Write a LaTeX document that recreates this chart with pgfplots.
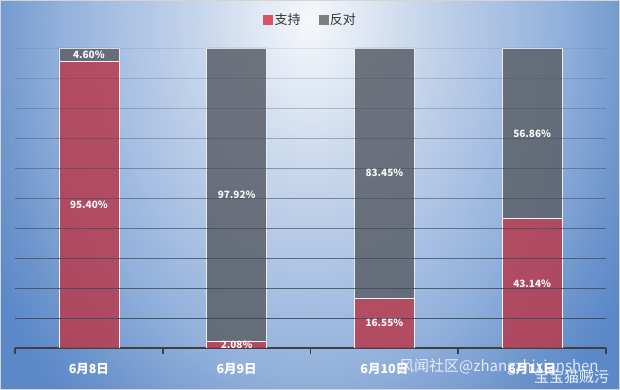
\documentclass[border=0pt]{standalone}
\usepackage{pgfplots}
\pgfplotsset{compat=1.18}
\usepackage{fontspec}
\setmainfont{Noto Sans CJK SC}
\definecolor{bgA}{HTML}{F6F8FB}
\definecolor{bgB}{HTML}{C4D4EA}
\definecolor{bgC}{HTML}{93B1DC}
\definecolor{bgD}{HTML}{6E96CC}
\definecolor{bgE}{HTML}{5B88C9}
\definecolor{bordc}{HTML}{D8D4CC}
\definecolor{redbar}{HTML}{B53E52}
\definecolor{graybar}{HTML}{5E636D}
\definecolor{legred}{HTML}{D9545F}
\definecolor{leggray}{HTML}{7F7F7F}
\definecolor{gridc}{HTML}{3E4A5C}
\definecolor{axc}{HTML}{404040}
\definecolor{legtext}{HTML}{333333}
\pgfdeclareradialshading{bgshade}{\pgfpoint{0bp}{0bp}}{color(0bp)=(bgA); color(8bp)=(bgB); color(17bp)=(bgC); color(22bp)=(bgD); color(25bp)=(bgE); color(50bp)=(bgE)}
\begin{document}
\begin{tikzpicture}
\useasboundingbox (0,0) rectangle (620bp,390bp);
\fill[bgE] (0,0) rectangle (620bp,390bp);
\begin{scope}
\clip (0,0) rectangle (620bp,390bp);
\shade[shading=bgshade] (310bp,370bp) ellipse (365bp and 520bp);
\end{scope}
\draw[bordc, line width=1bp] (0.5bp,0.5bp) rectangle (619.5bp,389.5bp);
\begin{axis}[
  at={(15bp,42bp)}, anchor=south west,
  scale only axis, width=591bp, height=300bp,
  xmin=-0.5, xmax=3.5, ymin=0, ymax=100,
  ybar stacked, bar width=60bp,
  axis y line=none, axis x line*=bottom,
  x axis line style={draw=axc, line width=1.6bp},
  xtick={0,1,2,3},
  xticklabels={6月8日,6月9日,6月10日,6月11日},
  major tick length=0pt,
  xticklabel style={font=\fontsize{12.5bp}{14bp}\selectfont\bfseries, text=white, yshift=-12bp},
  extra x ticks={-0.5,0.5,1.5,2.5,3.5},
  extra x tick labels={},
  extra x tick style={major tick length=6bp, tick align=outside, tick style={draw=axc, line width=1.6bp}},
  legend style={at={(0.5,1)}, anchor=south, yshift=18bp, draw=none, fill=none,
    font=\fontsize{13bp}{15bp}\selectfont, text=legtext,
    /tikz/every even column/.append style={column sep=16bp}},
  legend columns=2,
]
\pgfplotsinvokeforeach{10,20,...,100}{
  \draw[gridc, line width=0.8bp, opacity={1-#1/112}] (axis cs:-0.5,#1) -- (axis cs:3.5,#1);
}
\addlegendimage{legend image code/.code={\fill[legred] (0bp,-4.5bp) rectangle (9bp,4.5bp);}}
\addlegendentry{支持}
\addlegendimage{legend image code/.code={\fill[leggray] (0bp,-4.5bp) rectangle (9bp,4.5bp);}}
\addlegendentry{反对}
\addplot[fill=redbar, fill opacity=0.88, draw=white!85!pink, line width=0.6bp, forget plot]
  coordinates {(0,95.40) (1,2.08) (2,16.55) (3,43.14)};
\addplot[fill=graybar, fill opacity=0.88, draw=white!85!gray, line width=0.6bp, forget plot]
  coordinates {(0,4.60) (1,97.92) (2,83.45) (3,56.86)};
\end{axis}
\begin{axis}[
  at={(15bp,42bp)}, anchor=south west,
  scale only axis, width=591bp, height=300bp,
  xmin=-0.5, xmax=3.5, ymin=0, ymax=100,
  hide axis, clip=false,
  nodes near coords={\pgfplotspointmeta\%},
  point meta=explicit symbolic,
  every node near coord/.append style={anchor=center, font=\fontsize{10bp}{12bp}\selectfont\bfseries, text=white!95!gray},
]
\addplot[draw=none, mark=none] table[meta=lab] {
x y lab
0 47.70 95.40
0 97.70 4.60
1 1.04 2.08
1 51.04 97.92
2 8.275 16.55
2 58.275 83.45
3 21.57 43.14
3 71.57 56.86
};
\end{axis}
\node[anchor=west, text=white, opacity=0.8, font=\fontsize{15bp}{17bp}\selectfont, inner sep=0pt] at (399bp,23bp) {风闻社区@zhangzhixianshen};
\node[anchor=west, text=white, opacity=0.9, font=\fontsize{15bp}{17bp}\selectfont, inner sep=0pt] at (534bp,13bp) {宝宝猫贼污};
\end{tikzpicture}
\end{document}
